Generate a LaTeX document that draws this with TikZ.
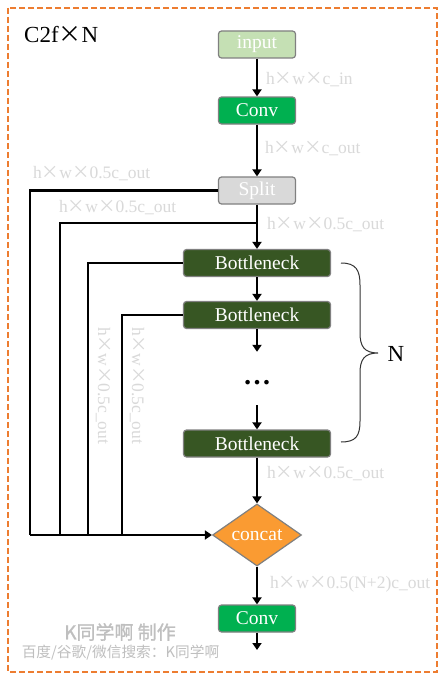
\documentclass[tikz,border=0pt]{standalone}
\usepackage{fontspec}
\setmainfont{Liberation Serif}
\newfontfamily\cjkfont{Noto Sans CJK SC}
\newfontfamily\cjkbold[FakeBold=1.2]{Noto Sans CJK SC}
\usetikzlibrary{arrows.meta, shapes.geometric}

\definecolor{inputgreen}{RGB}{197,224,180}
\definecolor{convgreen}{RGB}{0,176,80}
\definecolor{neckgreen}{RGB}{55,86,35}
\definecolor{splitgray}{RGB}{217,217,217}
\definecolor{catorange}{RGB}{250,155,50}
\definecolor{frameorange}{RGB}{237,125,49}
\definecolor{dimtext}{RGB}{217,217,217}
\definecolor{marktext}{RGB}{191,191,191}

\newcommand{\crossx}{{\cjkfont ×}}

\begin{document}
\begin{tikzpicture}[
    x=1pt, y=-1pt,
    box/.style={draw=gray, line width=1.2pt, rounded corners=3pt, minimum width=77pt, minimum height=27pt, inner sep=0pt, text=white, font=\fontsize{19.5}{20}\selectfont},
    inbox/.style={box, fill=inputgreen},
    convbox/.style={box, fill=convgreen},
    splitbox/.style={box, fill=splitgray},
    neckbox/.style={box, fill=neckgreen, minimum width=147pt},
    catnode/.style={diamond, draw=gray, line width=1.2pt, fill=catorange, minimum width=89pt, minimum height=58pt, inner sep=0pt, text=white, font=\fontsize{19.5}{20}\selectfont},
    flow/.style={line width=2.9pt},
    arrow/.style={flow, -{Triangle[length=7pt,width=9pt]}},
    dimlabel/.style={text=dimtext, font=\fontsize{17.5}{18}\selectfont, inner sep=0pt, anchor=west},
    wmark/.style={text=marktext, inner sep=0pt},
    frame/.style={draw=frameorange, line width=1.6pt, dash pattern=on 6pt off 3pt},
    brace/.style={draw=black!80, line width=1pt},
]

% Canvas and dashed frame
\path[fill=white] (0,0) rectangle (447,685);
\draw[frame] (8,8) rectangle (437,672);
\node[anchor=west, inner sep=0pt, font=\fontsize{23}{24}\selectfont] (title) at (24,35) {C2f\crossx N};

% Main column
\node[inbox] (input) at (257,44.5) {input};
\node[convbox] (conv1) at (257,110.5) {Conv};
\node[splitbox] (split) at (257,190.5) {Split};
\node[neckbox] (neck1) at (257,263) {Bottleneck};
\node[neckbox] (neck2) at (257,315) {Bottleneck};
\node[minimum height=53pt, inner sep=0pt, text height=12pt, text depth=0pt, font=\fontsize{28}{28}\selectfont\bfseries] (dots) at (257,378.5) {…};
\node[neckbox] (neck3) at (257,443.5) {Bottleneck};
\node[catnode] (concat) at (257,535) {concat};
\node[convbox] (conv2) at (257,618.5) {Conv};
\coordinate (out) at (257,650);

% Bus corners and split tap
\coordinate (tap) at (257,223);
\coordinate (b1) at (30,535);
\coordinate (b2) at (60,535);
\coordinate (b3) at (88,535);
\coordinate (b4) at (122,535);

% Main flow
\draw[arrow] (input) -- (conv1);
\draw[arrow] (conv1) -- (split);
\draw[arrow] (split) -- (neck1);
\draw[arrow] (neck1) -- (neck2);
\draw[arrow] (neck2) -- (dots);
\draw[arrow] (dots) -- (neck3);
\draw[arrow] (neck3) -- (concat);
\draw[arrow] (concat) -- (conv2);
\draw[arrow] (conv2) -- (out);

% Side branches into concat
\draw[flow] (split.west) -| (b1);
\draw[flow] (tap) -| (b2);
\draw[flow] (neck1.west) -| (b3);
\draw[flow] (neck2.west) -| (b4);
\draw[arrow] (b1) -- (concat.west);

% Shape labels
\node[dimlabel] (lin) at (266,80) {h\crossx w\crossx c\_in};
\node[dimlabel] (lout) at (265,149) {h\crossx w\crossx c\_out};
\node[dimlabel] (ls1) at (33,174) {h\crossx w\crossx 0.5c\_out};
\node[dimlabel] (ls2) at (59,208) {h\crossx w\crossx 0.5c\_out};
\node[dimlabel] (ls3) at (267,225) {h\crossx w\crossx 0.5c\_out};
\node[dimlabel, rotate=-90] (lv1) at (103,327) {h\crossx w\crossx 0.5c\_out};
\node[dimlabel, rotate=-90] (lv2) at (137,327) {h\crossx w\crossx 0.5c\_out};
\node[dimlabel] (lb3) at (267,474) {h\crossx w\crossx 0.5c\_out};
\node[dimlabel] (lcat) at (270,584) {h\crossx w\crossx 0.5(N+2)c\_out};

% Repeat brace
\draw[brace] (341,263) .. controls (356,263) and (360,270) .. (360,285) -- (360,333)
    .. controls (360,346) and (364,353) .. (378,353)
    .. controls (364,353) and (360,360) .. (360,373) -- (360,421)
    .. controls (360,436) and (356,442) .. (341,442);
\node[inner sep=0pt, font=\fontsize{23}{24}\selectfont] (nrep) at (396,354) {N};

% Watermark
\node[wmark, font=\cjkbold\fontsize{19}{20}\selectfont] (credit) at (120,632) {K同学啊 制作};
\node[wmark, font=\cjkfont\fontsize{14.7}{15}\selectfont] (search) at (120.5,653) {百度/谷歌/微信搜索：K同学啊};

\end{tikzpicture}
\end{document}
